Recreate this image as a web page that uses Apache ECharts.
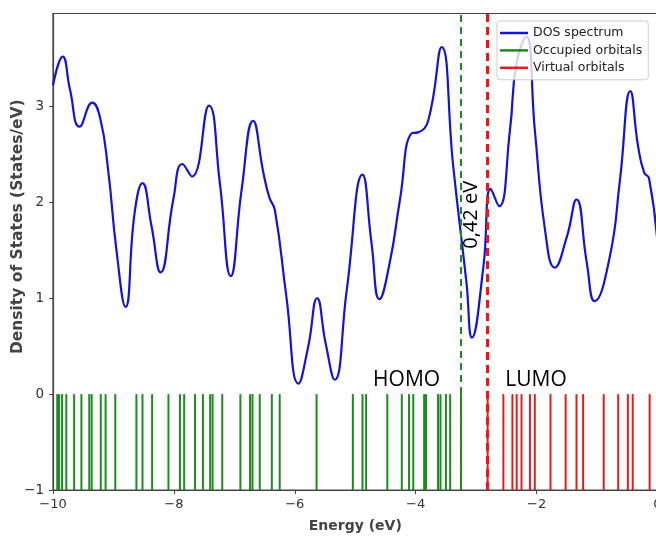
<!DOCTYPE html>
<html>
<head>
<meta charset="utf-8">
<script src="https://cdn.jsdelivr.net/npm/echarts@6/dist/echarts.min.js"></script>
<style>
  html, body { margin: 0; padding: 0; background: #fff; }
  #chart { width: 656px; height: 540px; }
</style>
</head>
<body>
<div id="chart"></div>
<script>
// DOS curve: [energy (eV), states/eV]
const dosCurve = [
  [-10.0, 3.22], [-9.84, 3.52], [-9.72, 3.18], [-9.56, 2.79], [-9.35, 3.04],
  [-9.22, 2.88], [-9.09, 2.35], [-8.95, 1.50], [-8.80, 0.91],
  [-8.65, 1.89], [-8.52, 2.20], [-8.37, 1.75], [-8.22, 1.27], [-8.01, 2.03],
  [-7.86, 2.40], [-7.70, 2.27], [-7.42, 3.01], [-7.24, 2.20], [-7.06, 1.23],
  [-6.88, 2.13], [-6.69, 2.85], [-6.52, 2.31], [-6.42, 2.05], [-6.33, 1.92],
  [-6.14, 1.02], [-5.94, 0.11], [-5.78, 0.49], [-5.63, 1.00], [-5.49, 0.53],
  [-5.34, 0.15], [-5.14, 1.09], [-4.88, 2.29], [-4.73, 1.57], [-4.60, 0.99],
  [-4.43, 1.37], [-4.26, 2.03], [-4.07, 2.72], [-3.96, 2.73], [-3.79, 2.86],
  [-3.57, 3.62], [-3.38, 2.38], [-3.16, 1.16], [-3.07, 0.59], [-2.88, 1.33],
  [-2.76, 2.14], [-2.62, 1.96], [-2.44, 2.76], [-2.33, 3.46], [-2.17, 3.73],
  [-2.03, 2.76], [-1.86, 1.71], [-1.70, 1.32], [-1.50, 1.64], [-1.34, 2.03],
  [-1.17, 1.37], [-1.04, 0.97], [-0.79, 1.43], [-0.62, 2.24], [-0.45, 3.16],
  [-0.32, 2.58], [-0.22, 2.31], [-0.14, 2.25], [0.0, 1.58]
];

// orbital energies (eV)
const occupied = [
  -9.93, -9.90, -9.85, -9.78, -9.65, -9.53, -9.40, -9.36, -9.21, -9.13,
  -8.97, -8.62, -8.52, -8.36, -8.09, -7.90, -7.83, -7.65, -7.52, -7.40,
  -7.36, -7.20, -6.90, -6.74, -6.70, -6.58, -6.38, -6.25, -5.64, -5.04,
  -4.88, -4.82, -4.47, -4.23, -4.11, -4.04, -3.86, -3.83, -3.63, -3.59,
  -3.50, -3.43, -3.25
];
const virtual = [
  -2.81, -2.55, -2.40, -2.33, -2.25, -2.11, -2.03, -1.77, -1.52, -1.34,
  -1.23, -0.89, -0.65, -0.49, -0.41, -0.13
];

const homo = -3.25;
const lumo = -2.81;
const gapLabel = '0,42 eV';

const xTicks = [-10, -8, -6, -4, -2, 0];
const yTicks = [-1, 0, 1, 2, 3];

const minus = (v) => String(v).replace('-', '\u2212');

function stick(color) {
  return function (params, api) {
    const e = api.value(0);
    const top = api.coord([e, 0]);
    const bottom = api.coord([e, -1]);
    return {
      type: 'line',
      shape: { x1: top[0], y1: top[1], x2: bottom[0], y2: bottom[1] },
      style: { stroke: color, lineWidth: 2 }
    };
  };
}

const chart = echarts.init(document.getElementById('chart'));
chart.setOption({
  animation: false,
  grid: {
    left: 53, top: 13.5, width: 604.5, height: 476.5,
    outerBoundsMode: 'none', containLabel: false,
    show: true, borderColor: '#444', borderWidth: 1.2
  },
  legend: {
    orient: 'vertical',
    left: 497, top: 21,
    icon: 'rect',
    itemWidth: 28, itemHeight: 2.5,
    itemGap: 3.4,
    padding: [5, 6, 5, 3],
    backgroundColor: 'rgba(255,255,255,0.8)',
    borderColor: '#ccc', borderWidth: 1, borderRadius: 3,
    textStyle: { fontFamily: 'DejaVu Sans', fontSize: 12.5, color: '#222', lineHeight: 14 },
    data: ['DOS spectrum', 'Occupied orbitals', 'Virtual orbitals']
  },
  xAxis: {
    type: 'value', min: -10, max: 0, interval: 2,
    name: 'Energy (eV)', nameLocation: 'middle', nameGap: 29, nameMoveOverlap: false,
    nameTextStyle: { fontFamily: 'DejaVu Sans', fontWeight: 'bold', fontSize: 14, color: '#444' },
    axisLine: { onZero: false, lineStyle: { color: '#444', width: 1.2 } },
    axisTick: { show: true, inside: false, length: 4, customValues: xTicks, lineStyle: { color: '#444' } },
    axisLabel: { customValues: xTicks, margin: 8, fontFamily: 'DejaVu Sans', fontSize: 13, color: '#333', formatter: minus },
    splitLine: { show: false }
  },
  yAxis: {
    type: 'value', min: -1, max: 3.97, interval: 1,
    name: 'Density of States (States/eV)', nameLocation: 'middle', nameGap: 27, nameMoveOverlap: false,
    nameTextStyle: { fontFamily: 'DejaVu Sans', fontWeight: 'bold', fontSize: 15.5, color: '#444', padding: [0, 0, 0, 50] },
    axisLine: { show: true, onZero: false, lineStyle: { color: '#444', width: 1.2 } },
    axisTick: { show: true, inside: false, length: 4, customValues: yTicks, lineStyle: { color: '#444' } },
    axisLabel: { customValues: yTicks, margin: 9, fontFamily: 'DejaVu Sans', fontSize: 13.5, color: '#333', formatter: minus },
    splitLine: { show: false }
  },
  series: [
    {
      name: 'Occupied orbitals',
      type: 'custom',
      renderItem: stick('#1f8a1f'),
      itemStyle: { color: '#1f8a1f' },
      encode: { x: 0, y: 1 },
      data: occupied.map((e) => [e, 0]),
      z: 2,
      markLine: {
        silent: true, symbol: 'none', label: { show: false },
        lineStyle: { color: '#1f8a1f', type: [7, 5], width: 2 },
        data: [{ xAxis: homo }]
      }
    },
    {
      name: 'Virtual orbitals',
      type: 'custom',
      renderItem: stick('#e01e1e'),
      itemStyle: { color: '#e01e1e' },
      encode: { x: 0, y: 1 },
      data: virtual.map((e) => [e, 0]),
      z: 2,
      markLine: {
        silent: true, symbol: 'none', label: { show: false },
        lineStyle: { color: '#ff1010', type: [8, 5], width: 3 },
        data: [{ xAxis: lumo }]
      }
    },
    {
      name: 'DOS spectrum',
      type: 'line',
      data: dosCurve,
      smooth: 0.5,
      showSymbol: false,
      lineStyle: { color: '#1414d4', width: 2.2 },
      itemStyle: { color: '#1414d4' },
      z: 3,
      markPoint: {
        symbol: 'circle', symbolSize: 0, silent: true,
        label: { show: true, position: 'inside', fontFamily: 'Open Sans', fontSize: 21, color: '#000', formatter: '{b}' },
        data: [
          { name: 'HOMO', coord: [-4.15, 0.15] },
          { name: 'LUMO', coord: [-2.01, 0.15] },
          { name: gapLabel, coord: [-3.08, 1.87], label: { rotate: 90, fontSize: 20 } }
        ]
      }
    }
  ]
});
</script>
</body>
</html>
